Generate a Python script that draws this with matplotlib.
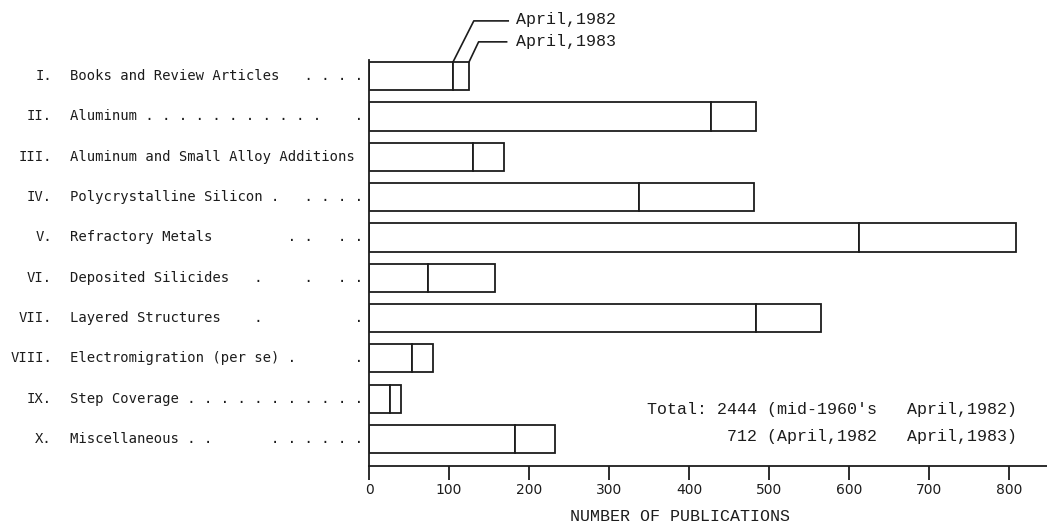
import matplotlib.pyplot as plt
from matplotlib.transforms import blended_transform_factory

# data
numerals = ['I.', 'II.', 'III.', 'IV.', 'V.', 'VI.', 'VII.', 'VIII.', 'IX.', 'X.']
labels = [
    'Books and Review Articles   . . . .',
    'Aluminum . . . . . . . . . . .    .',
    'Aluminum and Small Alloy Additions',
    'Polycrystalline Silicon .   . . . .',
    'Refractory Metals         . .   . .',
    'Deposited Silicides   .     .   . .',
    'Layered Structures    .           .',
    'Electromigration (per se) .       .',
    'Step Coverage . . . . . . . . . . .',
    'Miscellaneous . .       . . . . . .',
]
pubs_1982 = [105, 428, 130, 338, 613, 74, 484, 54, 26, 183]
pubs_1983 = [125, 484, 169, 481, 809, 158, 565, 80, 40, 233]
xticks = [0, 100, 200, 300, 400, 500, 600, 700, 800]
total_lines = ["Total: 2444 (mid-1960's   April,1982)",
               "712 (April,1982   April,1983)"]

ink = '#1c1c1c'
W, H = 1047, 527

fig = plt.figure(figsize=(W / 100, H / 100), dpi=100)
ax = fig.add_axes([369 / W, 61 / H, 678 / W, 406 / H])

rows = list(range(len(labels)))
added = [b - a for a, b in zip(pubs_1982, pubs_1983)]
ax.barh(rows, pubs_1982, height=0.7, color='white', edgecolor=ink, linewidth=1.3)
ax.barh(rows, added, left=pubs_1982, height=0.7, color='white', edgecolor=ink, linewidth=1.3)

ax.set_xlim(0, 847.5)
ax.set_ylim(9.67, -0.4)
ax.set_xticks(xticks)
ax.set_xticklabels([str(t) for t in xticks], fontsize=10, family='DejaVu Sans', color=ink)
ax.set_yticks([])
ax.tick_params(axis='x', direction='out', length=10, width=1.3, color=ink, pad=2)
for s in ['top', 'right']:
    ax.spines[s].set_visible(False)
for s in ['left', 'bottom']:
    ax.spines[s].set_linewidth(1.3)
    ax.spines[s].set_color(ink)

ax.set_xlabel('NUMBER OF PUBLICATIONS', fontsize=12, family='Liberation Mono', color=ink)
ax.xaxis.set_label_coords((680 - 369) / 678, -0.105)

# category labels with leader dots
tr = blended_transform_factory(fig.transFigure, ax.transData)
for r, num, lab in zip(rows, numerals, labels):
    ax.text(52 / W, r, num, transform=tr, ha='right', va='center',
            fontsize=10, family='DejaVu Sans Mono', color=ink)
    ax.text(70 / W, r, lab, transform=tr, ha='left', va='center',
            fontsize=10, family='DejaVu Sans Mono', color=ink)

# leader lines to the first bar
top0 = rows[0] - 0.35
ax.plot([pubs_1982[0], pubs_1982[0] + 26, pubs_1982[0] + 69], [top0, -1.37, -1.37],
        color=ink, lw=1.2, clip_on=False)
ax.plot([pubs_1983[0], pubs_1983[0] + 12, pubs_1983[0] + 47], [top0, -0.85, -0.85],
        color=ink, lw=1.2, clip_on=False)
ax.text(184, -1.40, 'April,1982', ha='left', va='center', fontsize=12,
        family='Liberation Mono', color=ink, clip_on=False)
ax.text(184, -0.86, 'April,1983', ha='left', va='center', fontsize=12,
        family='Liberation Mono', color=ink, clip_on=False)

# totals note
ax.text((1017 - 369) / 678 * 847.5, 8.26, total_lines[0], ha='right', va='center',
        fontsize=12, family='Liberation Mono', color=ink)
ax.text((1017 - 369) / 678 * 847.5, 8.93, total_lines[1], ha='right', va='center',
        fontsize=12, family='Liberation Mono', color=ink)

plt.savefig('out.png', dpi=100)
